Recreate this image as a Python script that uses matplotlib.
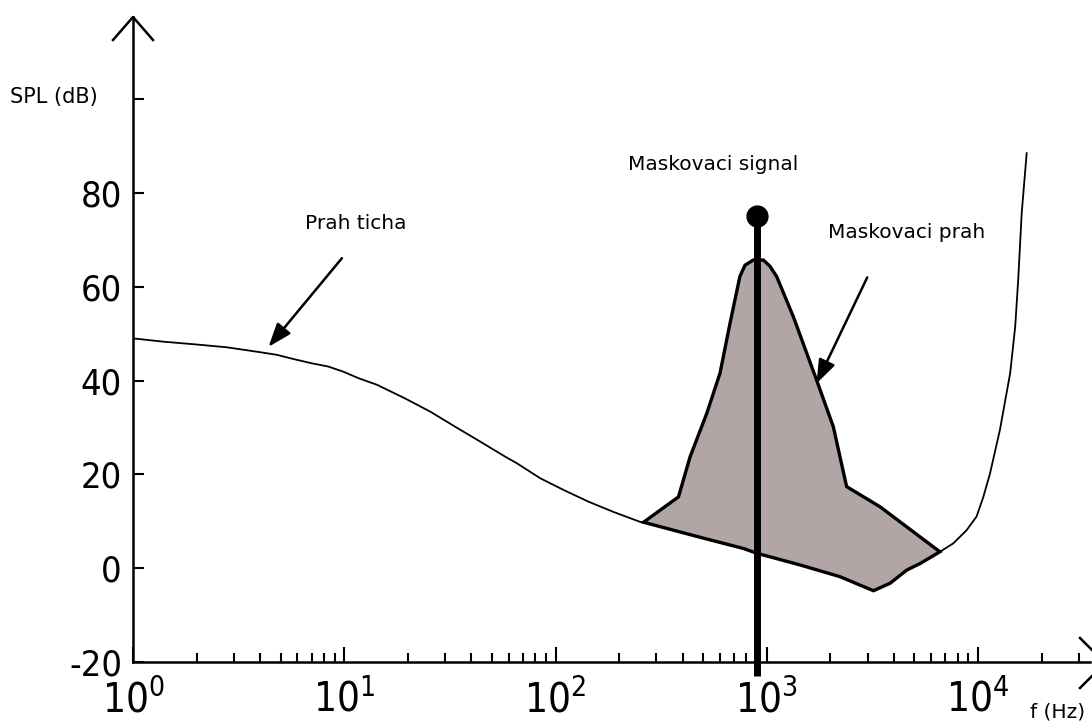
import matplotlib
matplotlib.use('Agg')
import matplotlib.pyplot as plt
import numpy as np
from matplotlib.lines import Line2D
from matplotlib.ticker import FuncFormatter, FixedLocator

plt.rcParams['font.family'] = ['DejaVu Sans']
plt.rcParams['font.stretch'] = 'condensed'

# threshold in quiet (Hz, dB)
thr_f = [1.0, 1.39, 2.0, 2.78, 3.43, 4.07, 4.79, 5.75, 7.0, 8.4, 9.9, 11.7, 14.3,
         19.4, 25.5, 33.4, 44, 57.7, 65.5, 84.5, 109, 143, 188, 251, 261, 483, 776,
         895, 1435, 2220, 2760, 3200, 3840, 4600, 5320, 6600, 7640, 8830, 9840,
         10600, 11400, 12700, 14200, 15000, 15500, 16100, 17000]
thr_db = [49.0, 48.3, 47.7, 47.1, 46.5, 46.0, 45.5, 44.6, 43.7, 43.0, 41.9, 40.5, 39.1,
          36.2, 33.4, 30.2, 27.0, 23.8, 22.4, 19.2, 16.7, 14.2, 12.0, 9.9, 9.8, 6.6, 4.2,
          3.2, 0.7, -1.8, -3.6, -4.8, -3.2, -0.4, 1.0, 3.5, 5.3, 8.1, 11.0,
          15.2, 20.2, 29.5, 41.6, 51.5, 61.5, 75.7, 88.5]

# masking threshold, upper edge (Hz, dB)
mask_f = [261, 382, 434, 520, 601, 670, 746, 789, 863, 964, 1035, 1114, 1337,
          1722, 2065, 2388, 3436, 6600]
mask_db = [9.8, 15.2, 23.8, 33.0, 41.6, 52.2, 62.2, 64.6, 65.7, 65.7, 64.4, 62.2, 53.6,
           40.1, 30.2, 17.4, 13.1, 3.5]

# masking signal
sig_f = 900
sig_db = 75
sig_floor = -23

ytick_vals = [-20, 0, 20, 40, 60, 80, 100]
ytick_labels = ['-20', '0', '20', '40', '60', '80', '']

W, H = 1092, 724
fig = plt.figure(figsize=(W / 100, H / 100), dpi=100)
ax = fig.add_axes([133 / W, (H - 662) / H, (1090 - 133) / W, (662 - 17) / H])
ax.set_xscale('log')
ax.set_xlim(1, 10 ** ((1090 - 133) / 211.25))
ax.set_ylim(-20, -20 + (662 - 17) / 4.69)

for s in ['top', 'right']:
    ax.spines[s].set_visible(False)
for s in ['left', 'bottom']:
    ax.spines[s].set_linewidth(1.8)

# threshold in quiet
ax.plot(thr_f, thr_db, color='k', lw=1.3)

# masked region
thr_f_a = np.array(thr_f)
thr_db_a = np.array(thr_db)
sel = (thr_f_a >= mask_f[0]) & (thr_f_a <= mask_f[-1])
poly_f = list(mask_f) + list(thr_f_a[sel][::-1])
poly_db = list(mask_db) + list(thr_db_a[sel][::-1])
ax.fill(poly_f, poly_db, facecolor='#b1a5a6', edgecolor='k', lw=2.4, zorder=3)

# masking signal
ax.plot([sig_f, sig_f], [sig_floor, sig_db], color='k', lw=5, zorder=4, clip_on=False,
        solid_capstyle='butt')
ax.plot([sig_f], [sig_db], 'ko', ms=15, zorder=5)

# ticks
ax.yaxis.set_major_locator(FixedLocator(ytick_vals))
ax.set_yticklabels(ytick_labels)
ax.tick_params(axis='y', direction='in', length=8, width=1.5, pad=8, labelsize=26)
ax.tick_params(axis='x', which='major', direction='in', length=11, width=1.5, pad=13, labelsize=29)
ax.tick_params(axis='x', which='minor', direction='in', length=6.5, width=1.5)
ax.xaxis.set_major_formatter(FuncFormatter(lambda v, p: r'$\mathregular{10^{%d}}$' % round(np.log10(v))))

# annotations
TXT = dict(family='DejaVu Sans', stretch='normal', fontsize=14.5)
ax.text(6.5, 72.3, 'Prah ticha', ha='left', va='baseline', **TXT)
ax.text(220, 85.0, 'Maskovaci signal', ha='left', va='baseline', **TXT)
ax.text(1950, 70.3, 'Maskovaci prah', ha='left', va='baseline', **TXT)
arrow = dict(arrowstyle='-|>,head_length=0.6,head_width=0.22', lw=1.8, color='k',
             mutation_scale=24, shrinkA=0, shrinkB=0)
ax.annotate('', xy=(4.38, 47.2), xytext=(9.75, 66.1), arrowprops=arrow)
ax.annotate('', xy=(1720, 39.4), xytext=(2990, 62.0), arrowprops=arrow)

fig.text(10 / W, 1 - 103 / H, 'SPL (dB)', ha='left', va='baseline',
         family='DejaVu Sans', stretch='normal', fontsize=15)
fig.text(1030 / W, 1 - 718 / H, 'f (Hz)', ha='left', va='baseline', **TXT)

# axis arrow heads
fig.add_artist(Line2D(np.array([113, 133, 153]) / W, 1 - np.array([40, 17, 40]) / H,
                      color='k', lw=1.8))
fig.add_artist(Line2D(np.array([1080, 1105, 1080]) / W, 1 - np.array([638, 663, 688]) / H,
                      color='k', lw=1.8))

fig.savefig('out.png', dpi=100)
